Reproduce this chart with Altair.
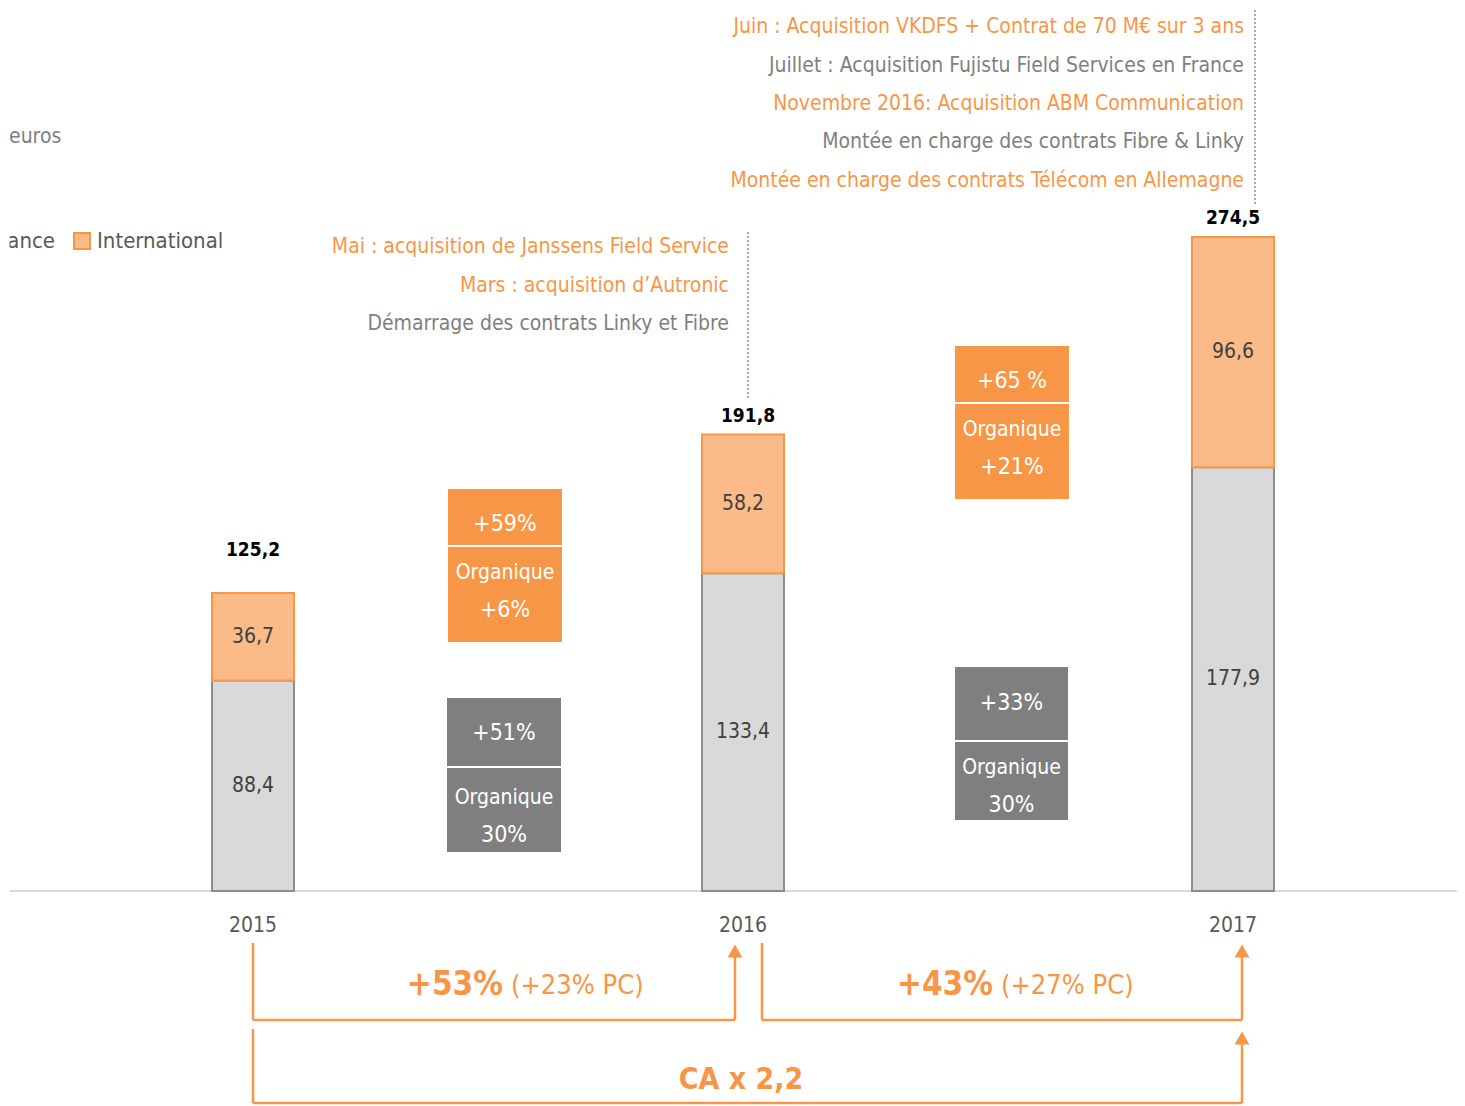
import altair as alt
import pandas as pd

# ---------------- data ----------------
years = [2015, 2016, 2017]
france = [88.4, 133.4, 177.9]
international = [36.7, 58.2, 96.6]
totals = [125.2, 191.8, 274.5]
year_labels = ["2015", "2016", "2017"]

events_2017 = [
    "Juin : Acquisition VKDFS + Contrat de 70 M€ sur 3 ans",
    "Juillet : Acquisition Fujistu Field Services en France",
    "Novembre 2016: Acquisition ABM Communication",
    "Montée en charge des contrats Fibre & Linky",
    "Montée en charge des contrats Télécom en Allemagne",
]
events_2016 = [
    "Mai : acquisition de Janssens Field Service",
    "Mars : acquisition d\u2019Autronic",
    "Démarrage des contrats Linky et Fibre",
]
box_texts = [
    ["+59%", "Organique", "+6%"],
    ["+51%", "Organique", "30%"],
    ["+65 %", "Organique", "+21%"],
    ["+33%", "Organique", "30%"],
]
growth_bold = ["+53%", "+43%"]
growth_pc = ["(+23% PC)", "(+27% PC)"]
total_growth = "CA x 2,2"

# ---------------- layout helpers ----------------
W, H = 1449, 1098
FONT = "DejaVu Sans Condensed"
ORANGE = "#f79646"
LIGHT_ORANGE = "#fabb88"
GREY_TXT = "#7f7f7f"
DARK_TXT = "#404040"


def xr(px):
    return 2015 + (px - 253) / 490.0


def yr(py):
    return (891 - py) / 2.3825


XS = alt.Scale(domain=[xr(8), xr(8 + W)], range=[0, W], nice=False, zero=False, padding=0)
YS = alt.Scale(domain=[yr(8 + H), yr(8)], range=[H, 0], nice=False, zero=False, padding=0)


def X(f="x"):
    return alt.X(f"{f}:Q", scale=XS, axis=None)


def Y(f="y"):
    return alt.Y(f"{f}:Q", scale=YS, axis=None)


def fmt(v):
    return f"{v:.1f}".replace(".", ",")


# ---------------- bars ----------------
bars_df = pd.DataFrame(
    [{"year": y, "seg": "France", "y": 0.0, "y2": f} for y, f in zip(years, france)]
    + [{"year": y, "seg": "International", "y": f, "y2": f + i}
       for y, f, i in zip(years, france, international)]
)
bars = alt.Chart(bars_df).mark_bar(size=82, strokeWidth=2).encode(
    x=X("year"),
    y=Y("y"),
    y2="y2:Q",
    color=alt.Color("seg:N", scale=alt.Scale(domain=["France", "International"],
                                             range=["#d9d9d9", LIGHT_ORANGE]), legend=None),
    stroke=alt.Stroke("seg:N", scale=alt.Scale(domain=["France", "International"],
                                               range=["#8c8c8c", ORANGE]), legend=None),
    order=alt.Order("seg:N"),
)

seg_lab_df = pd.DataFrame(
    [{"x": y, "y": f / 2, "t": fmt(f)} for y, f in zip(years, france)]
    + [{"x": y, "y": f + i / 2, "t": fmt(i)} for y, f, i in zip(years, france, international)]
)
seg_labels = alt.Chart(seg_lab_df).mark_text(
    font=FONT, fontSize=21, color=DARK_TXT, baseline="middle"
).encode(x=X(), y=Y(), text="t:N")

total_gap_px = [43, 18, 19]
total_dx_px = [0, 5, 0]
tot_df = pd.DataFrame([
    {"x": y + dx / 490.0, "y": t + g / 2.3825, "t": fmt(t)}
    for y, t, g, dx in zip(years, totals, total_gap_px, total_dx_px)
])
tot_labels = alt.Chart(tot_df).mark_text(
    font=FONT, fontSize=19, fontWeight="bold", color="#000000", baseline="middle"
).encode(x=X(), y=Y(), text="t:N")

# baseline
base_df = pd.DataFrame([{"x": xr(8), "x2": xr(1465), "y": 0.0}])
baseline = alt.Chart(base_df).mark_rule(color="#d9d9d9", strokeWidth=2).encode(
    x=X(), x2="x2:Q", y=Y())

# year labels
yl_df = pd.DataFrame({"x": years, "y": [yr(926)] * 3, "t": year_labels})
year_text = alt.Chart(yl_df).mark_text(
    font=FONT, fontSize=21, color="#595959", baseline="middle"
).encode(x=X(), y=Y(), text="t:N")

# ---------------- event annotations ----------------
ev_rows = []
ev17_y = [27, 66, 104, 142, 181]
ev17_c = [ORANGE, GREY_TXT, ORANGE, GREY_TXT, ORANGE]
for t, py, c in zip(events_2017, ev17_y, ev17_c):
    ev_rows.append({"x": xr(1244), "y": yr(py), "t": t, "c": c})
ev16_y = [247, 286, 324]
ev16_c = [ORANGE, ORANGE, GREY_TXT]
for t, py, c in zip(events_2016, ev16_y, ev16_c):
    ev_rows.append({"x": xr(729), "y": yr(py), "t": t, "c": c})
events = alt.Chart(pd.DataFrame(ev_rows)).mark_text(
    font=FONT, fontSize=21, align="right", baseline="middle"
).encode(x=X(), y=Y(), text="t:N", color=alt.Color("c:N", scale=None))

dots_df = pd.DataFrame([
    {"x": xr(1255), "y": yr(10), "y2": yr(205)},
    {"x": xr(748), "y": yr(232), "y2": yr(400)},
])
dots = alt.Chart(dots_df).mark_rule(color="#8c8c8c", strokeWidth=1.5, strokeDash=[2, 2]).encode(
    x=X(), y=Y(), y2="y2:Q")

# ---------------- left header / legend ----------------
head = alt.Chart(pd.DataFrame([{"x": xr(9), "y": yr(137), "t": "euros"}])).mark_text(
    font=FONT, fontSize=21, color=GREY_TXT, align="left", baseline="middle"
).encode(x=X(), y=Y(), text="t:N")

leg_fr = alt.Chart(pd.DataFrame([{"x": xr(55), "y": yr(241), "t": "France"}])).mark_text(
    font=FONT, fontSize=22, color="#595959", align="right", baseline="middle"
).encode(x=X(), y=Y(), text="t:N")
leg_int = alt.Chart(pd.DataFrame([{"x": xr(97), "y": yr(241), "t": "International"}])).mark_text(
    font=FONT, fontSize=22, color="#595959", align="left", baseline="middle"
).encode(x=X(), y=Y(), text="t:N")
leg_sw = alt.Chart(pd.DataFrame([{"x": xr(74), "x2": xr(90), "y": yr(233), "y2": yr(249)}])).mark_rect(
    fill=LIGHT_ORANGE, stroke=ORANGE, strokeWidth=2
).encode(x=X(), x2="x2:Q", y=Y(), y2="y2:Q")

# ---------------- growth boxes ----------------
boxes_geom = [
    # x_left, x_right, (top1, bot1), (top2, bot2), fill
    (448, 562, (489, 545), (547, 642), ORANGE),
    (447, 561, (698, 766), (768, 852), GREY_TXT),
    (955, 1069, (346, 402), (404, 499), ORANGE),
    (955, 1068, (667, 740), (742, 820), GREY_TXT),
]
box_text_y = [
    [524, 573, 610],
    [733, 798, 835],
    [381, 430, 467],
    [703, 768, 805],
]
box_text_size = [23, 21, 23]
rect_rows, btxt_rows = [], []
for (xl, xrr, p1, p2, fill), texts, tys in zip(boxes_geom, box_texts, box_text_y):
    for top, bot in (p1, p2):
        rect_rows.append({"x": xr(xl), "x2": xr(xrr), "y": yr(top), "y2": yr(bot), "c": fill})
    for t, ty, s in zip(texts, tys, box_text_size):
        btxt_rows.append({"x": xr((xl + xrr) / 2), "y": yr(ty), "t": t, "s": s})
box_rects = alt.Chart(pd.DataFrame(rect_rows)).mark_rect().encode(
    x=X(), x2="x2:Q", y=Y(), y2="y2:Q", color=alt.Color("c:N", scale=None))
box_txt = alt.Chart(pd.DataFrame(btxt_rows)).mark_text(
    font=FONT, color="#ffffff", baseline="middle"
).encode(x=X(), y=Y(), text="t:N", size=alt.Size("s:Q", scale=None))

# ---------------- brackets ----------------
seg_rows = [
    # bracket 2015 -> 2016
    (253, 943, 253, 1020), (253, 1020, 735, 1020), (735, 1020, 735, 955),
    # bracket 2016 -> 2017
    (762, 943, 762, 1020), (762, 1020, 1242, 1020), (1242, 1020, 1242, 955),
    # bracket 2015 -> 2017
    (253, 1029, 253, 1103), (253, 1103, 1242, 1103), (1242, 1103, 1242, 1042),
]
br_df = pd.DataFrame([{"x": xr(a), "y": yr(b), "x2": xr(c), "y2": yr(d)} for a, b, c, d in seg_rows])
brackets = alt.Chart(br_df).mark_rule(color=ORANGE, strokeWidth=2.5).encode(
    x=X(), y=Y(), x2="x2:Q", y2="y2:Q")
arrow_df = pd.DataFrame([
    {"x": xr(735), "y": yr(951)},
    {"x": xr(1242), "y": yr(951)},
    {"x": xr(1242), "y": yr(1038)},
])
arrows = alt.Chart(arrow_df).mark_point(
    shape="triangle-up", filled=True, size=220, color=ORANGE, opacity=1
).encode(x=X(), y=Y())

gb_df = pd.DataFrame([
    {"x": xr(503), "y": yr(985), "t": growth_bold[0]},
    {"x": xr(993), "y": yr(985), "t": growth_bold[1]},
])
gbold = alt.Chart(gb_df).mark_text(
    font=FONT, fontSize=33, fontWeight="bold", color=ORANGE, align="right", baseline="middle"
).encode(x=X(), y=Y(), text="t:N")
gp_df = pd.DataFrame([
    {"x": xr(511), "y": yr(986), "t": growth_pc[0]},
    {"x": xr(1001), "y": yr(986), "t": growth_pc[1]},
])
gpc = alt.Chart(gp_df).mark_text(
    font=FONT, fontSize=27, color=ORANGE, align="left", baseline="middle"
).encode(x=X(), y=Y(), text="t:N")
ca = alt.Chart(pd.DataFrame([{"x": xr(741), "y": yr(1080), "t": total_growth}])).mark_text(
    font=FONT, fontSize=30, fontWeight="bold", color=ORANGE, baseline="middle"
).encode(x=X(), y=Y(), text="t:N")

# white edge mask (hides the renderer's hairline frame at the canvas edge)
edge_df = pd.DataFrame([
    {"x": xr(8), "y": yr(8), "x2": xr(8 + W), "y2": yr(8)},
    {"x": xr(8), "y": yr(8), "x2": xr(8), "y2": yr(8 + H)},
])
edges = alt.Chart(edge_df).mark_rule(color="#ffffff", strokeWidth=3).encode(
    x=X(), y=Y(), x2="x2:Q", y2="y2:Q")

chart = alt.layer(
    baseline, bars, seg_labels, tot_labels, year_text, events, dots,
    head, leg_fr, leg_int, leg_sw, box_rects, box_txt,
    brackets, arrows, gbold, gpc, ca, edges,
).properties(
    width=W, height=H, padding=0, autosize=alt.AutoSizeParams(type="none"),
).configure_view(stroke="transparent", strokeWidth=0).configure(background="#ffffff")

chart.save("out.html", embed_options={"renderer": "svg", "actions": False})
